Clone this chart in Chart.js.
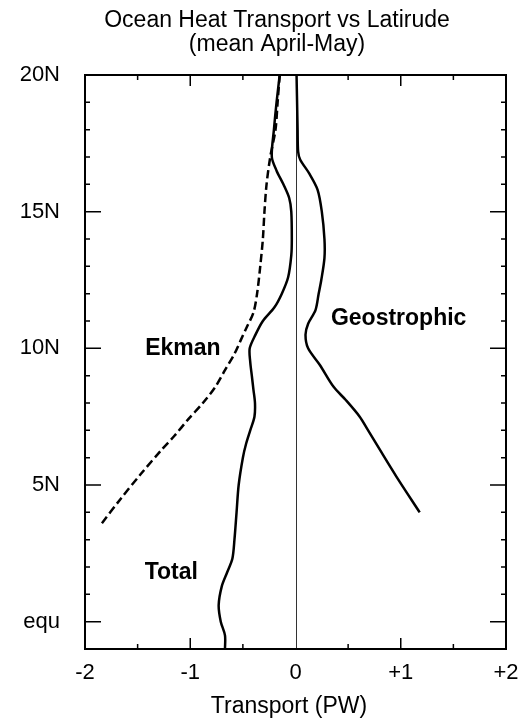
<!DOCTYPE html>
<html>
<head>
<meta charset="utf-8">
<script src="https://cdn.jsdelivr.net/npm/chart.js@4/dist/chart.umd.min.js"></script>
<style>
  html, body { margin: 0; padding: 0; background: #ffffff; }
  #wrap { width: 524px; height: 721px; }
</style>
</head>
<body>
<div id="wrap"><canvas id="chart" width="524" height="721"></canvas></div>
<script>
// Latitude (deg N) and transport (PW) along each curve, north to south
const totalLat = [20, 19, 18, 17, 16.5, 16, 15.5, 15, 14, 13.4, 12.6, 12, 11.5, 11, 10.5, 10, 9.5, 9, 8.5, 8, 7.5, 7, 6.5, 6, 5, 4, 3, 2.3, 1.8, 1.3, 0.6, 0, -0.5, -1];
const totalPW  = [-0.15, -0.18, -0.205, -0.225, -0.18, -0.115, -0.06, -0.04, -0.035, -0.04, -0.07, -0.13, -0.2, -0.31, -0.38, -0.435, -0.43, -0.415, -0.4, -0.385, -0.39, -0.43, -0.47, -0.5, -0.54, -0.56, -0.58, -0.6, -0.65, -0.7, -0.73, -0.71, -0.67, -0.67];

const geoLat = [20, 19, 18, 17.2, 16.9, 16.4, 15.8, 15, 14, 13.3, 12.5, 12, 11.4, 10.9, 10.5, 10, 9.4, 8.6, 8.1, 7.5, 7, 6.3, 5.3, 4];
const geoPW  = [0.01, 0.015, 0.02, 0.025, 0.045, 0.13, 0.21, 0.25, 0.275, 0.275, 0.245, 0.22, 0.19, 0.12, 0.095, 0.12, 0.23, 0.36, 0.48, 0.61, 0.69, 0.8, 0.96, 1.18];

const ekmanLat = [20, 19, 18, 17, 16, 15, 14, 13, 12, 11.3, 10.8, 10.3, 9.8, 9.2, 8.6, 8, 7.4, 6.8, 6.3, 5.4, 4.5, 3.5];
const ekmanPW  = [-0.15, -0.17, -0.19, -0.24, -0.275, -0.295, -0.31, -0.335, -0.365, -0.4, -0.46, -0.52, -0.58, -0.67, -0.76, -0.88, -1.02, -1.15, -1.27, -1.47, -1.66, -1.86];

// Axis ticks and their labels
const latTicks = [0, 5, 10, 15, 20];
const latTickLabels = ['equ', '5N', '10N', '15N', '20N'];
const pwTicks = [-2, -1, 0, 1, 2];
const pwTickLabels = ['-2', '-1', '0', '+1', '+2'];
const pwMinorTicks = [-1.5, -1, -0.5, 0.5, 1, 1.5];
const latMinorTicks = [1, 2, 3, 4, 6, 7, 8, 9, 11, 12, 13, 14, 16, 17, 18, 19];

// Curve names and where they are written (PW, deg N)
const curveNames = ['Ekman', 'Geostrophic', 'Total'];
const curveNameX = [-1.07, 0.98, -1.18];
const curveNameY = [10.0, 11.1, 1.8];

const titleLines = ['Ocean Heat Transport vs Latirude', '(mean April-May)'];
const xAxisTitle = 'Transport (PW)';

const FONT = '"Liberation Sans", Arial, Helvetica, sans-serif';

const toPoints = (lat, pw) => lat.map((y, i) => ({ x: pw[i], y: y }));

// Frame with inward ticks, the zero line, titles and curve names
const framePlugin = {
  id: 'frame',
  beforeDatasetsDraw(chart) {
    const { ctx, chartArea: a, scales: { x } } = chart;
    const x0 = Math.round(x.getPixelForValue(0)) + 0.5;
    ctx.save();
    ctx.strokeStyle = '#333';
    ctx.lineWidth = 1;
    ctx.beginPath();
    ctx.moveTo(x0, a.top);
    ctx.lineTo(x0, a.bottom);
    ctx.stroke();
    ctx.restore();
  },
  afterDatasetsDraw(chart) {
    const { ctx, chartArea: a, scales: { x, y } } = chart;
    ctx.save();
    ctx.strokeStyle = '#000';
    ctx.lineWidth = 1.5;
    ctx.beginPath();
    pwMinorTicks.forEach(v => {
      const px = x.getPixelForValue(v);
      const len = Number.isInteger(v) ? 11 : 5;
      ctx.moveTo(px, a.bottom); ctx.lineTo(px, a.bottom - len);
      ctx.moveTo(px, a.top); ctx.lineTo(px, a.top + len);
    });
    latTicks.concat(latMinorTicks).forEach(v => {
      const py = y.getPixelForValue(v);
      const len = latTicks.includes(v) ? 16 : 5;
      ctx.moveTo(a.left, py); ctx.lineTo(a.left + len, py);
      ctx.moveTo(a.right, py); ctx.lineTo(a.right - len, py);
    });
    ctx.stroke();

    ctx.lineWidth = 2;
    ctx.strokeRect(a.left, a.top, a.right - a.left, a.bottom - a.top);

    ctx.fillStyle = '#000';
    ctx.textAlign = 'center';
    ctx.textBaseline = 'middle';
    ctx.font = 'bold 23px ' + FONT;
    curveNames.forEach((t, i) => {
      ctx.fillText(t, x.getPixelForValue(curveNameX[i]), y.getPixelForValue(curveNameY[i]));
    });

    ctx.textBaseline = 'alphabetic';
    ctx.font = '23px ' + FONT;
    ctx.fillText(titleLines[0], 277, 27);
    ctx.fillText(titleLines[1], 277, 51);
    ctx.fillText(xAxisTitle, 289, 713);
    ctx.restore();
  }
};

const lineStyle = {
  borderColor: '#000',
  backgroundColor: '#000',
  borderWidth: 2.5,
  pointRadius: 0,
  showLine: true,
  fill: false,
  tension: 0.3
};

new Chart(document.getElementById('chart'), {
  type: 'scatter',
  data: {
    datasets: [
      Object.assign({ label: 'Total', data: toPoints(totalLat, totalPW) }, lineStyle),
      Object.assign({ label: 'Geostrophic', data: toPoints(geoLat, geoPW) }, lineStyle),
      Object.assign({ label: 'Ekman', data: toPoints(ekmanLat, ekmanPW), borderDash: [8, 4] }, lineStyle)
    ]
  },
  options: {
    responsive: false,
    animation: false,
    devicePixelRatio: 1,
    layout: { padding: { top: 75, right: 18, left: 0, bottom: 0 } },
    plugins: {
      legend: { display: false },
      title: { display: false },
      tooltip: { enabled: false }
    },
    scales: {
      x: {
        type: 'linear',
        min: -2,
        max: 2,
        grid: { display: false },
        border: { display: false },
        afterBuildTicks(s) { s.ticks = pwTicks.map(v => ({ value: v })); },
        afterFit(s) { s.height = 72; },
        ticks: {
          padding: 3,
          color: '#000',
          font: { family: FONT, size: 22 },
          maxRotation: 0,
          callback: (v) => pwTickLabels[pwTicks.indexOf(v)]
        }
      },
      y: {
        type: 'linear',
        min: -1,
        max: 20,
        grid: { display: false },
        border: { display: false },
        afterBuildTicks(s) { s.ticks = latTicks.map(v => ({ value: v })); },
        afterFit(s) { s.width = 85; },
        ticks: {
          padding: 17,
          color: '#000',
          font: { family: FONT, size: 22 },
          callback: (v) => latTickLabels[latTicks.indexOf(v)]
        }
      }
    }
  },
  plugins: [framePlugin]
});
</script>
</body>
</html>
